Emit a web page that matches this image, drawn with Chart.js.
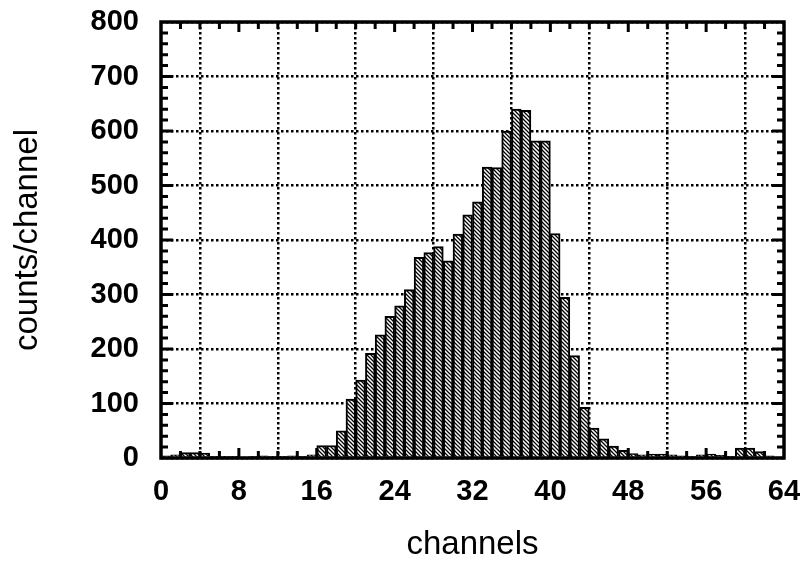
<!DOCTYPE html>
<html>
<head>
<meta charset="utf-8">
<script src="https://cdn.jsdelivr.net/npm/chart.js@4/dist/chart.umd.min.js"></script>
<style>
  body { margin: 0; background: #fff; }
  #wrap { width: 805px; height: 565px; }
</style>
</head>
<body>
<div id="wrap"><canvas id="myChart" width="805" height="565"></canvas></div>
<script>
// channel numbers (one bin each)
const channels = [
  0, 1, 2, 3, 4, 5, 6, 7, 8, 9, 10, 11, 12, 13, 14, 15,
  16, 17, 18, 19, 20, 21, 22, 23, 24, 25, 26, 27, 28, 29, 30, 31,
  32, 33, 34, 35, 36, 37, 38, 39, 40, 41, 42, 43, 44, 45, 46, 47,
  48, 49, 50, 51, 52, 53, 54, 55, 56, 57, 58, 59, 60, 61, 62, 63
];
// counts per channel
const counts = [
  4, 6, 10, 10, 9, 3, 3, 3, 2, 3, 4, 3, 3, 4, 3, 6,
  23, 23, 50, 108, 143, 192, 226, 260, 279, 309, 368, 377, 388, 362, 411, 446,
  470, 534, 533, 600, 640, 638, 582, 582, 412, 295, 188, 93, 55, 35, 22, 14,
  8, 6, 7, 7, 6, 4, 3, 6, 7, 5, 3, 18, 18, 12, 4, 2
];
const xTicks = [0, 8, 16, 24, 32, 40, 48, 56, 64];
const yTicks = [0, 100, 200, 300, 400, 500, 600, 700, 800];

const ctx = document.getElementById('myChart').getContext('2d');

function hatch() {
    const c = document.createElement('canvas');
    c.width = 4; c.height = 4;
    const g = c.getContext('2d');
    g.fillStyle = '#fff';
    g.fillRect(0, 0, 4, 4);
    g.strokeStyle = '#000';
    g.lineWidth = 1.3;
    g.beginPath();
    g.moveTo(0, 0); g.lineTo(4, 4);
    g.moveTo(-1, 3); g.lineTo(1, 5);
    g.moveTo(3, -1); g.lineTo(5, 1);
    g.stroke();
    return g.createPattern(c, 'repeat');
}

// thick frame plus inward minor ticks on all four sides
const framePlugin = {
    id: 'frame',
    afterDatasetsDraw(chart) {
        const { ctx, chartArea: a, scales } = chart;
        const x = scales.x, y = scales.y;
        ctx.save();
        ctx.strokeStyle = '#000';
        ctx.lineWidth = 3;
        ctx.beginPath();
        for (let v = 2; v < 64; v += 2) {
            const px = x.getPixelForValue(v);
            const len = v % 8 === 0 ? 10 : 7;
            ctx.moveTo(px, a.top); ctx.lineTo(px, a.top + len);
            ctx.moveTo(px, a.bottom); ctx.lineTo(px, a.bottom - len);
        }
        for (let v = 20; v < 800; v += 20) {
            const py = y.getPixelForValue(v);
            const len = v % 100 === 0 ? 12 : 7;
            ctx.moveTo(a.left, py); ctx.lineTo(a.left + len, py);
            ctx.moveTo(a.right, py); ctx.lineTo(a.right - len, py);
        }
        ctx.stroke();
        ctx.lineWidth = 3.5;
        ctx.strokeRect(a.left, a.top, a.right - a.left, a.bottom - a.top);
        ctx.restore();
    }
};

const tickFont = { family: 'Liberation Sans, Arial, sans-serif', size: 29, weight: 'bold' };
const titleFont = { family: 'Liberation Sans, Arial, sans-serif', size: 33, weight: 'normal' };

new Chart(ctx, {
    type: 'bar',
    data: {
        datasets: [{
            data: channels.map((c, i) => ({ x: c + 0.5, y: counts[i] })),
            backgroundColor: hatch(),
            borderColor: '#000',
            borderWidth: 2,
            barPercentage: 1,
            categoryPercentage: 1
        }]
    },
    plugins: [framePlugin],
    options: {
        responsive: false,
        animation: false,
        layout: { padding: { top: 22, right: 21, left: 0, bottom: 0 } },
        plugins: { legend: { display: false }, tooltip: { enabled: false } },
        scales: {
            x: {
                type: 'linear',
                min: 0, max: 64,
                offset: false,
                afterBuildTicks: (s) => { s.ticks = xTicks.map(v => ({ value: v })); },
                afterFit: (s) => { s.height = 107; s.paddingLeft = 0; s.paddingRight = 0; },
                ticks: { color: '#000', font: tickFont, padding: 17, maxRotation: 0 },
                grid: { color: '#000', lineWidth: 2.5, drawTicks: false },
                border: { display: false, dash: [2.5, 2.5] },
                title: { display: true, text: 'channels', color: '#000', font: titleFont, padding: { top: 0, bottom: 0 } }
            },
            y: {
                min: 0, max: 800,
                afterBuildTicks: (s) => { s.ticks = yTicks.map(v => ({ value: v })); },
                afterFit: (s) => { s.width = 161; s.paddingTop = 0; s.paddingBottom = 0; },
                ticks: { color: '#000', font: tickFont, padding: 22 },
                grid: { color: '#000', lineWidth: 2.5, drawTicks: false },
                border: { display: false, dash: [2.5, 2.5] },
                title: { display: true, text: 'counts/channel', color: '#000', font: titleFont, padding: { top: 8, bottom: 0 } }
            }
        }
    }
});
</script>
</body>
</html>
